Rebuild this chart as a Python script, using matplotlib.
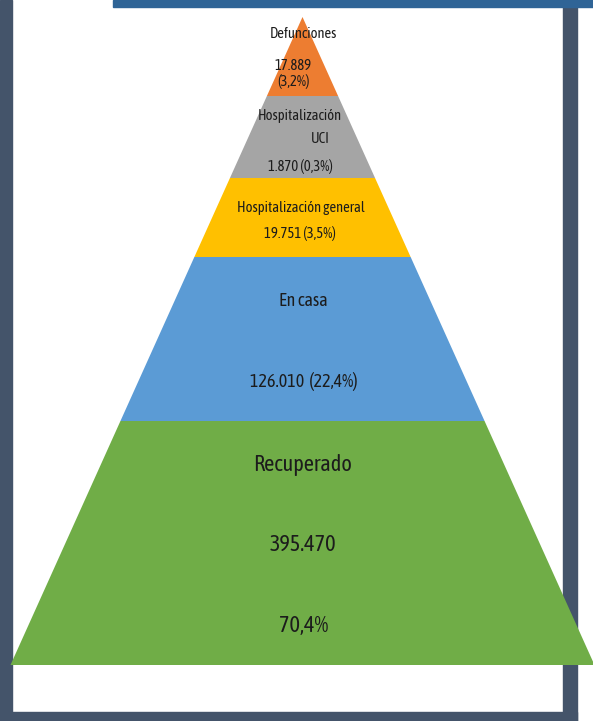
import matplotlib
matplotlib.use("Agg")
import matplotlib.pyplot as plt
from matplotlib.patches import Polygon, Rectangle

# data, top of the pyramid first
categories = ["Defunciones", "Hospitalización\nUCI", "Hospitalización general", "En casa", "Recuperado"]
counts = [17889, 1870, 19751, 126010, 395470]
percents = [3.2, 0.3, 3.5, 22.4, 70.4]

colors = ["#ed7d31", "#a5a5a5", "#ffc000", "#5b9bd5", "#70ad47"]
# band edges (pixels from top), layout only
band_edges = [17, 96, 178, 257, 421, 665]
apex_x = 302.5
base_half = 292.0

W, H = 593, 721


def es_num(n):
    return f"{n:,}".replace(",", ".")


def es_pct(p):
    return f"{p:.1f}".replace(".", ",") + "%"


font = ["Asap Condensed", "DejaVu Sans"]
txt_color = "#1c1c1c"

fig = plt.figure(figsize=(W / 100, H / 100), dpi=100)
ax = fig.add_axes([0, 0, 1, 1])
ax.set_xlim(0, W)
ax.set_ylim(H, 0)
ax.axis("off")

# frame pieces
border = "#44546a"
ax.add_patch(Rectangle((0, 0), 12, H, color=border, zorder=1))
ax.add_patch(Rectangle((563, 0), 14, H, color=border, zorder=1))
ax.add_patch(Rectangle((0, 712), 577, H - 712, color=border, zorder=1))
ax.add_patch(Rectangle((113, 0), W - 113, 7, color="#2f6496", zorder=1))

top, bottom = band_edges[0], band_edges[-1]


def half_width(y):
    return base_half * (y - top) / (bottom - top)


for i, c in enumerate(colors):
    y0, y1 = band_edges[i], band_edges[i + 1]
    w0, w1 = half_width(y0), half_width(y1)
    pts = [(apex_x - w0, y0), (apex_x + w0, y0), (apex_x + w1, y1), (apex_x - w1, y1)]
    ax.add_patch(Polygon(pts, closed=True, facecolor=c, edgecolor="none", zorder=2))


def put(x, y, s, size):
    ax.text(x, y, s, ha="center", va="baseline", fontsize=size,
            family=font, color=txt_color, zorder=3)


small, mid, big = 10.5, 13, 16

# Defunciones
put(303, 38, categories[0], small)
put(293.5, 70, es_num(counts[0]), small)
put(293.5, 86, "(" + es_pct(percents[0]) + ")", small)

# UCI
l1, l2 = categories[1].split("\n")
put(300, 120, l1, small)
put(320, 143, l2, small)
put(300, 171, f"{es_num(counts[1])} ({es_pct(percents[1])})", small)

# general
put(301, 212, categories[2], small)
put(300, 238, f"{es_num(counts[2])} ({es_pct(percents[2])})", small)

# En casa
put(303.5, 306, categories[3], mid)
put(304, 387, f"{es_num(counts[3])}  ({es_pct(percents[3])})", mid)

# Recuperado
put(303, 471, categories[4], big)
put(303, 551, es_num(counts[4]), big)
put(303.5, 632, es_pct(percents[4]), big)

fig.savefig("out.png", dpi=100, facecolor="white")
